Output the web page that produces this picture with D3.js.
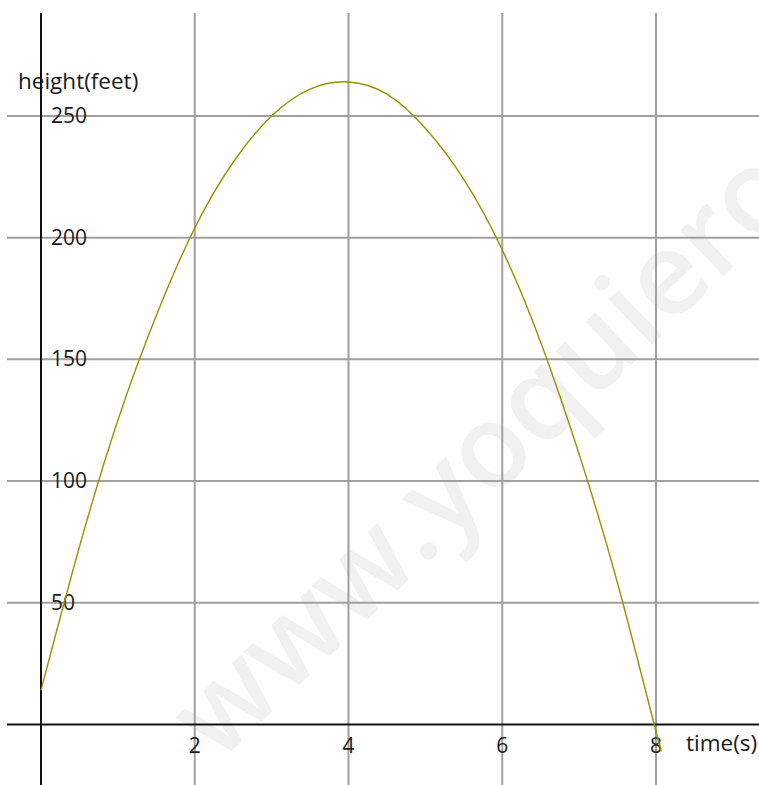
<!DOCTYPE html>
<html>
<head>
<meta charset="utf-8">
<script src="https://cdn.jsdelivr.net/npm/d3@7"></script>
<style>
  body { margin: 0; background: #fff; }
  text { font-family: "Open Sans", sans-serif; }
</style>
</head>
<body>
<div class="widget"></div>
<script>
// values
var times   = [0, 0.5, 1, 1.5, 2, 2.5, 3, 3.5, 4, 4.5, 5, 5.5, 6, 6.5, 7, 7.5, 8, 8.04];
var heights = [14, 73, 125, 168, 204, 231, 250, 261, 264, 259, 245, 224, 195, 157, 111, 58, -3, -7];
var xTicks = [2, 4, 6, 8];
var yTicks = [50, 100, 150, 200, 250];

var w = 759, h = 785;
var svg = d3.select(".widget").append("svg").attr("width", w).attr("height", h);

var x = d3.scaleLinear().domain([0, 8]).range([41, 656]);
var y = d3.scaleLinear().domain([0, 250]).range([724.4, 116]);

// watermark
svg.append("text")
  .attr("transform", "translate(218,764) rotate(-44)")
  .attr("font-size", 116)
  .attr("font-weight", 600)
  .attr("fill", "#f1f1f1")
  .text("www.yoquieroaprobar.es");

// grid
svg.append("g").selectAll("line").data(yTicks).enter().append("line")
  .attr("x1", 7).attr("x2", w)
  .attr("y1", d => y(d)).attr("y2", d => y(d))
  .attr("stroke", "#a0a0a0").attr("stroke-width", 2);

svg.append("g").selectAll("line").data(xTicks).enter().append("line")
  .attr("y1", 13).attr("y2", h)
  .attr("x1", d => x(d)).attr("x2", d => x(d))
  .attr("stroke", "#a0a0a0").attr("stroke-width", 2);

// axes
svg.append("line").attr("x1", 7).attr("x2", w).attr("y1", y(0)).attr("y2", y(0))
  .attr("stroke", "#111").attr("stroke-width", 2);
svg.append("line").attr("x1", x(0)).attr("x2", x(0)).attr("y1", 13).attr("y2", h)
  .attr("stroke", "#111").attr("stroke-width", 2);

// tick labels
svg.append("g").selectAll("text").data(yTicks).enter().append("text")
  .attr("x", 51).attr("y", d => y(d) + 7)
  .attr("font-size", 21).attr("fill", "#1a1a1a")
  .text(d => d);

svg.append("g").selectAll("text").data(xTicks).enter().append("text")
  .attr("x", d => x(d)).attr("y", 753)
  .attr("text-anchor", "middle")
  .attr("font-size", 21).attr("fill", "#1a1a1a")
  .text(d => d);

svg.append("text").attr("x", 18).attr("y", 89)
  .attr("font-size", 22.5).attr("fill", "#1a1a1a").text("height(feet)");
svg.append("text").attr("x", 686).attr("y", 751)
  .attr("font-size", 22.5).attr("fill", "#1a1a1a").text("time(s)");

// curve
var line = d3.line()
  .x((d, i) => x(times[i]))
  .y(d => y(d))
  .curve(d3.curveNatural);

svg.append("path")
  .attr("d", line(heights))
  .attr("fill", "none")
  .attr("stroke", "#949400")
  .attr("stroke-width", 1.4);
</script>
</body>
</html>
